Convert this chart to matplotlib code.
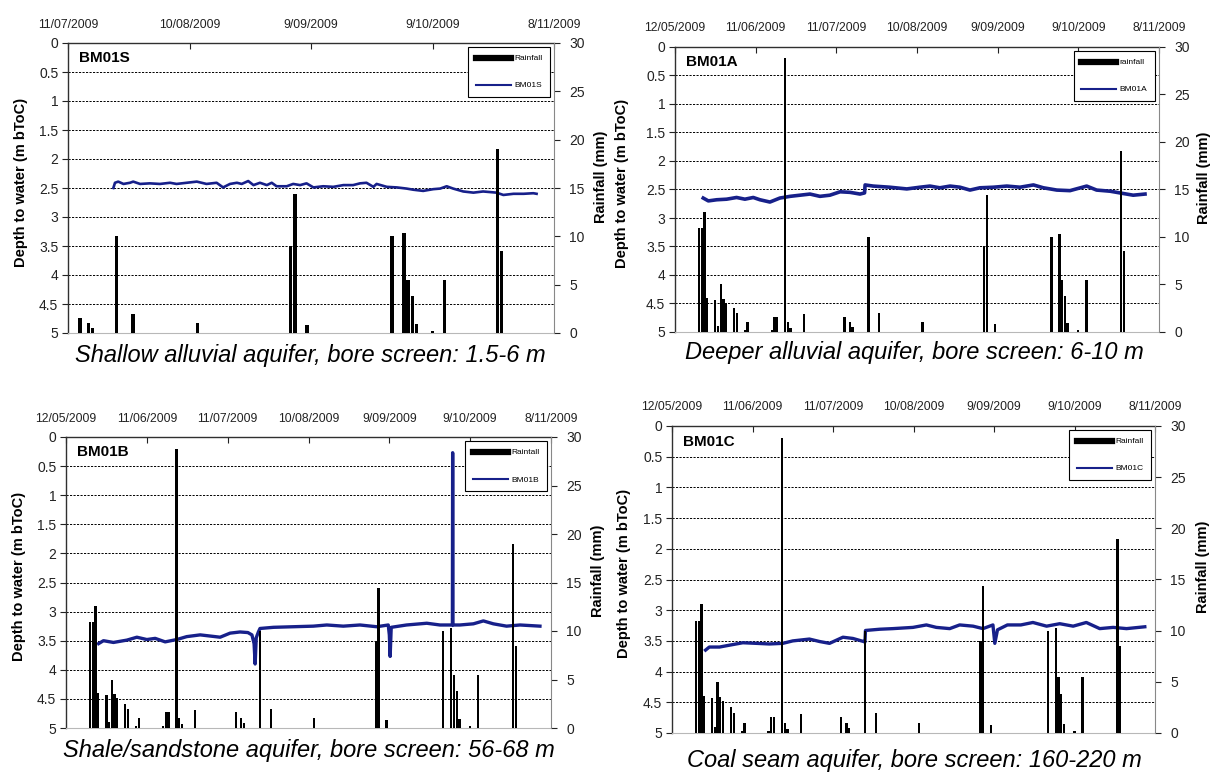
import matplotlib
matplotlib.use("Agg")
import matplotlib.pyplot as plt
from matplotlib.lines import Line2D
import pandas as pd

plt.rcParams['font.family'] = ['Liberation Sans', 'DejaVu Sans']

# day offsets are counted from 12/05/2009
start = pd.Timestamp('2009-05-12')

rain_day = [9, 10, 11, 12, 15, 16, 17, 18, 19, 22, 23, 26, 27, 36, 37, 38, 41, 42, 43, 48,
            63, 65, 66, 72, 76, 92, 115, 116, 119, 140, 143, 144, 145, 146, 150, 153, 166, 167]
rain_mm = [10.9, 10.9, 12.6, 3.6, 3.4, 0.6, 5.0, 3.5, 3.1, 2.5, 2.0, 0.2, 1.0, 0.2, 1.6, 1.6, 28.8, 1.0, 0.4, 1.9,
           1.6, 1.0, 0.5, 10.0, 2.0, 1.0, 9.0, 14.4, 0.8, 10.0, 10.3, 5.5, 3.8, 0.9, 0.2, 5.5, 19.0, 8.5]

s_day = [71.2, 71.6, 72.4, 73.7, 75.3, 76.1, 77.8, 80.2, 82.7, 85.2, 86.8, 89.3, 91.8, 94.2, 96.7, 98.3,
         100.0, 101.7, 102.9, 104.5, 105.8, 107.4, 109.1, 110.3, 111.5, 114.0, 115.6, 117.3, 118.9,
         120.6, 123.0, 125.5, 128.0, 130.4, 132.1, 133.7, 135.4, 136.2, 138.7, 141.2, 143.6, 145.3,
         147.7, 150.2, 151.9, 153.5, 155.1, 157.6, 160.1, 162.5, 165.8, 167.5, 170.0, 172.5, 174.9, 175.7]
s_depth = [2.50, 2.41, 2.39, 2.43, 2.41, 2.39, 2.43, 2.42, 2.43, 2.41, 2.43, 2.41, 2.39, 2.43, 2.41, 2.49,
           2.43, 2.41, 2.43, 2.38, 2.45, 2.41, 2.45, 2.41, 2.47, 2.47, 2.43, 2.45, 2.42,
           2.49, 2.47, 2.48, 2.45, 2.45, 2.42, 2.41, 2.48, 2.43, 2.48, 2.49, 2.51, 2.53,
           2.55, 2.52, 2.51, 2.47, 2.51, 2.56, 2.58, 2.56, 2.58, 2.62, 2.60, 2.60, 2.59, 2.60]

a_day = [10.5, 12.4, 15.5, 19.2, 22.9, 26.0, 29.1, 31.6, 35.3, 39.0, 42.8, 46.5, 50.2, 53.9, 57.6, 61.4,
         65.1, 68.8, 70.5, 70.7, 73.7, 79.9, 86.2, 91.1, 94.8, 98.5, 102.3, 106.0, 109.7, 113.4,
         118.4, 123.4, 128.3, 133.3, 137.0, 142.0, 146.9, 153.1, 156.8, 161.8, 166.7, 170.4, 174.8]
a_depth = [2.65, 2.70, 2.68, 2.67, 2.64, 2.67, 2.64, 2.68, 2.72, 2.65, 2.62, 2.60, 2.58, 2.62, 2.60, 2.54,
           2.55, 2.58, 2.56, 2.42, 2.44, 2.46, 2.49, 2.46, 2.44, 2.47, 2.44, 2.46, 2.51, 2.47,
           2.46, 2.44, 2.46, 2.42, 2.47, 2.51, 2.52, 2.44, 2.51, 2.53, 2.57, 2.60, 2.58]

b_day = [12.1, 13.9, 17.6, 22.6, 26.3, 30.0, 33.1, 36.8, 41.1, 44.8, 49.8, 53.5, 57.2, 60.9, 64.6, 67.5,
         69.0, 69.8, 70.2, 70.6, 71.4, 72.0, 77.0, 84.4, 91.8, 96.8, 102.9, 109.1, 115.3, 119.6,
         120.0, 120.3, 120.7, 126.4, 133.9, 138.8, 143.4, 143.5, 143.6, 146.2, 151.2, 154.9, 158.6,
         163.5, 168.5, 175.9]
b_depth = [3.55, 3.50, 3.53, 3.49, 3.44, 3.48, 3.46, 3.52, 3.48, 3.43, 3.40, 3.42, 3.44, 3.37, 3.35, 3.36,
           3.40, 3.55, 3.90, 3.45, 3.35, 3.29, 3.27, 3.26, 3.25, 3.23, 3.25, 3.23, 3.26, 3.23,
           3.40, 3.77, 3.27, 3.23, 3.20, 3.23, 3.23, 0.27, 3.23, 3.23, 3.21, 3.16, 3.21,
           3.25, 3.23, 3.25]

c_day = [12.5, 13.9, 17.7, 21.4, 26.4, 31.4, 36.3, 41.3, 45.0, 51.2, 55.0, 58.7, 63.7, 67.4, 71.4, 71.9,
         72.1, 77.4, 82.3, 89.8, 94.8, 98.5, 103.5, 107.2, 112.2, 115.9, 119.6, 120.3, 121.3, 125.0,
         130.0, 134.5, 139.6, 144.5, 149.5, 154.4, 159.4, 164.4, 169.4, 176.2]
c_depth = [3.65, 3.60, 3.60, 3.57, 3.53, 3.54, 3.55, 3.54, 3.50, 3.47, 3.51, 3.54, 3.44, 3.46, 3.51, 3.52,
           3.33, 3.31, 3.30, 3.28, 3.24, 3.28, 3.30, 3.24, 3.26, 3.30, 3.24, 3.54, 3.32, 3.24,
           3.24, 3.20, 3.26, 3.22, 3.26, 3.20, 3.30, 3.28, 3.30, 3.27]

tick_day = [0, 30, 60, 90, 120, 150, 180]
depth_ticks = [0, 0.5, 1, 1.5, 2, 2.5, 3, 3.5, 4, 4.5, 5]
rain_ticks = [0, 5, 10, 15, 20, 25, 30]

NAVY = '#17208a'
W, H = 1212, 773


def to_dates(days):
    return start + pd.to_timedelta(days, unit='D')


def panel(box, first_day, lvl_day, lvl_depth, name, rain_label, caption, cap_xy, lw, ylab_x, rlab_x):
    l, t, r, b = box
    ax = fig.add_axes([l / W, 1 - b / H, (r - l) / W, (b - t) / H])
    ax2 = ax.twinx()

    ax.plot(to_dates(lvl_day), lvl_depth, color=NAVY, lw=lw, solid_joinstyle='round')
    keep = [i for i, d in enumerate(rain_day) if d >= first_day]
    ax2.bar(to_dates([rain_day[i] for i in keep]), [rain_mm[i] for i in keep],
            width=0.85, color='black', linewidth=0)

    ax.set_ylim(5, 0)
    ax2.set_ylim(0, 30)
    ax.set_xlim(to_dates(first_day), to_dates(180))
    ax.set_yticks(depth_ticks)
    ax.set_yticklabels([f'{v:g}' for v in depth_ticks])
    ax2.set_yticks(rain_ticks)

    ticks = [d for d in tick_day if d >= first_day]
    ax.set_xticks(to_dates(ticks))
    ax.set_xticklabels([f'{d.day}/{d.month:02d}/{d.year}' for d in to_dates(ticks)])
    ax.xaxis.tick_top()
    ax.tick_params(axis='x', direction='in', length=4, pad=9, labelsize=8.8, colors='#222222')
    ax.tick_params(axis='y', direction='out', length=4, pad=3, labelsize=10, colors='#222222')
    ax2.tick_params(axis='y', direction='out', length=4, pad=7, labelsize=10, colors='#222222')

    ax.yaxis.grid(True, linestyle=(0, (2.2, 1.4)), color='black', lw=0.7)
    ax.set_axisbelow(True)

    for sp in ('top', 'left'):
        ax.spines[sp].set_color('#303030')
        ax.spines[sp].set_linewidth(1.0)
    ax.spines['bottom'].set_color('#b8b8b8')
    for sp in ('top', 'left', 'bottom'):
        ax2.spines[sp].set_visible(False)
    ax2.spines['right'].set_color('#888888')
    ax.spines['right'].set_visible(False)

    ax.set_ylabel('Depth to water (m bToC)', fontsize=10.5, fontweight='bold')
    ax.yaxis.set_label_coords(ylab_x, 0.52)
    ax2.set_ylabel('Rainfall (mm)', fontsize=10.5, fontweight='bold')
    ax2.yaxis.set_label_coords(rlab_x, 0.54)

    ax.text(0.022, 0.948, name, transform=ax.transAxes, fontsize=11, fontweight='bold', va='center')

    handles = [Line2D([], [], color='black', lw=4.5), Line2D([], [], color=NAVY, lw=1.5)]
    leg = ax2.legend(handles, [rain_label, name], loc='upper right', fontsize=6, fancybox=False,
                     edgecolor='black', framealpha=1, handlelength=4.2, handletextpad=0.4,
                     labelspacing=2.3, borderpad=0.9, borderaxespad=0.5)
    leg.get_frame().set_linewidth(0.8)

    fig.text(cap_xy[0] / W, 1 - cap_xy[1] / H, caption, ha='center', va='center',
             style='italic', fontsize=17)


fig = plt.figure(figsize=(W / 100, H / 100), dpi=100)

panel((68, 43, 554, 333), 60, s_day, s_depth, 'BM01S', 'Rainfall',
      'Shallow alluvial aquifer, bore screen: 1.5-6 m', (310, 356), 1.9, -0.083, 1.082)
panel((675, 47, 1159, 332), 0, a_day, a_depth, 'BM01A', 'rainfall',
      'Deeper alluvial aquifer, bore screen: 6-10 m', (914, 352), 2.6, -0.095, 1.079)
panel((66, 437, 551, 728), 0, b_day, b_depth, 'BM01B', 'Raintall',
      'Shale/sandstone aquifer, bore screen: 56-68 m', (309, 751), 2.4, -0.082, 1.082)
panel((672, 426, 1155, 733), 0, c_day, c_depth, 'BM01C', 'Rainfall',
      'Coal seam aquifer, bore screen: 160-220 m', (914, 761), 2.4, -0.085, 1.085)

fig.savefig('out.png', dpi=100)
